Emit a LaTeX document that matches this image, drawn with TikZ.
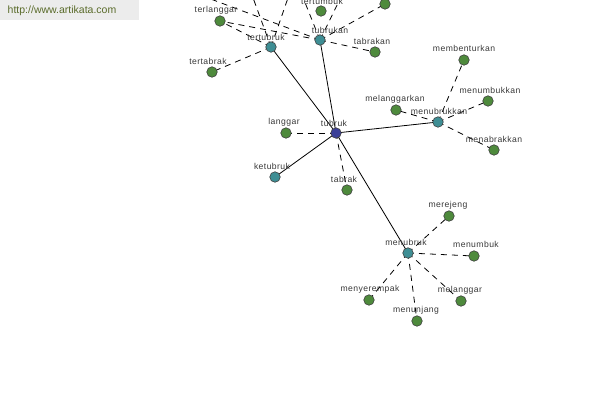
\documentclass[tikz,border=0pt]{standalone}
\usepackage{fontspec}
\setmainfont{Liberation Sans}
\newfontfamily\lblfont[LetterSpace=5]{Liberation Sans}
\begin{document}
\begin{tikzpicture}[x=1pt,y=-1pt,
  gnode/.style={circle,draw=black!75,line width=0.6pt,fill=greenc,inner sep=0pt,minimum size=10.5pt},
  tnode/.style={circle,draw=black!75,line width=0.6pt,fill=tealc,inner sep=0pt,minimum size=10.5pt},
  bnode/.style={circle,draw=black!75,line width=0.6pt,fill=bluec,inner sep=0pt,minimum size=10.5pt},
  lbl/.style={font=\lblfont\fontsize{8.6}{9}\selectfont,text=black!78,inner sep=0pt},
  solidedge/.style={draw=black,line width=0.8pt},
  dashedge/.style={draw=black,line width=0.8pt,dash pattern=on 6pt off 5pt}]
\definecolor{greenc}{HTML}{4E8A3C}
\definecolor{tealc}{HTML}{3E8E94}
\definecolor{bluec}{HTML}{3B3F98}
\definecolor{wmbg}{HTML}{ECECEC}
\definecolor{wmtext}{HTML}{5A6B2A}
\useasboundingbox (0,0) rectangle (600,400);
\clip (0,0) rectangle (600,400);
% off-canvas ends
\coordinate (o1) at (200,-5);
\coordinate (o2) at (252,-5);
\coordinate (o3) at (289,-5);
\coordinate (o4) at (302,-5);
\coordinate (o5) at (342,-5);
% node positions
\coordinate (tubruk) at (336,133);
\coordinate (tertubruk) at (271,47);
\coordinate (tubrukan) at (320,40);
\coordinate (menubrukkan) at (438,122);
\coordinate (menubruk) at (408,253);
\coordinate (ketubruk) at (275,177);
\coordinate (langgar) at (286,133);
\coordinate (tabrak) at (347,190);
\coordinate (tertumbuk) at (321,11);
\coordinate (terlanggar) at (220,21);
\coordinate (tertabrak) at (212,72);
\coordinate (tabrakan) at (375,52);
\coordinate (topright) at (385,4);
\coordinate (membenturkan) at (464,60);
\coordinate (menumbukkan) at (488,101);
\coordinate (melanggarkan) at (396,110);
\coordinate (menabrakkan) at (494,150);
\coordinate (merejeng) at (449,216);
\coordinate (menumbuk) at (474,256);
\coordinate (menyerempak) at (369,300);
\coordinate (melanggar) at (461,301);
\coordinate (menunjang) at (417,321);
% edges
\path[solidedge] (tubruk) -- (tertubruk);
\path[solidedge] (tubruk) -- (tubrukan);
\path[solidedge] (tubruk) -- (menubrukkan);
\path[solidedge] (tubruk) -- (menubruk);
\path[solidedge] (tubruk) -- (ketubruk);
\path[dashedge] (tubruk) -- (langgar);
\path[dashedge] (tubruk) -- (tabrak);
\path[dashedge] (tertubruk) -- (terlanggar);
\path[dashedge] (tertubruk) -- (tertabrak);
\path[dashedge] (tertubruk) -- (o2);
\path[dashedge] (tertubruk) -- (o3);
\path[dashedge] (tubrukan) -- (o1);
\path[dashedge] (tubrukan) -- (terlanggar);
\path[dashedge] (tubrukan) -- (o4);
\path[dashedge] (tubrukan) -- (o5);
\path[dashedge] (tubrukan) -- (topright);
\path[dashedge] (tubrukan) -- (tabrakan);
\path[dashedge] (menubrukkan) -- (membenturkan);
\path[dashedge] (menubrukkan) -- (menumbukkan);
\path[dashedge] (menubrukkan) -- (melanggarkan);
\path[dashedge] (menubrukkan) -- (menabrakkan);
\path[dashedge] (menubruk) -- (merejeng);
\path[dashedge] (menubruk) -- (menumbuk);
\path[dashedge] (menubruk) -- (menyerempak);
\path[dashedge] (menubruk) -- (melanggar);
\path[dashedge] (menubruk) -- (menunjang);
% nodes on top
\foreach \n/\s in {tubruk/bnode,tertubruk/tnode,tubrukan/tnode,menubrukkan/tnode,menubruk/tnode,ketubruk/tnode,
  langgar/gnode,tabrak/gnode,tertumbuk/gnode,terlanggar/gnode,tertabrak/gnode,tabrakan/gnode,topright/gnode,
  membenturkan/gnode,menumbukkan/gnode,melanggarkan/gnode,menabrakkan/gnode,merejeng/gnode,menumbuk/gnode,
  menyerempak/gnode,melanggar/gnode,menunjang/gnode}
  {\node[\s] (n-\n) at (\n) {};}
% labels
\node[lbl] (l1) at (334,123) {tubruk};
\node[lbl] (l2) at (266,37) {tertubruk};
\node[lbl] (l3) at (330,30) {tubrukan};
\node[lbl] (l4) at (322,1) {tertumbuk};
\node[lbl] (l5) at (216,10) {terlanggar};
\node[lbl] (l6) at (208,61) {tertabrak};
\node[lbl] (l7) at (372,41) {tabrakan};
\node[lbl] (l8) at (439,111) {menubrukkan};
\node[lbl] (l9) at (464,48) {membenturkan};
\node[lbl] (l10) at (490,90) {menumbukkan};
\node[lbl] (l11) at (395,99) {melanggarkan};
\node[lbl] (l12) at (494,139) {menabrakkan};
\node[lbl] (l13) at (284,122) {langgar};
\node[lbl] (l14) at (272,166) {ketubruk};
\node[lbl] (l15) at (344,179) {tabrak};
\node[lbl] (l16) at (406,242) {menubruk};
\node[lbl] (l17) at (448,205) {merejeng};
\node[lbl] (l18) at (476,244) {menumbuk};
\node[lbl] (l19) at (370,289) {menyerempak};
\node[lbl] (l20) at (460,290) {melanggar};
\node[lbl] (l21) at (416,310) {menunjang};
% watermark
\node[fill=wmbg,minimum width=139pt,minimum height=20pt,inner sep=0pt,anchor=north west] (wm) at (0,0) {};
\node[text=wmtext,font=\fontsize{10.5}{12}\selectfont,inner sep=0pt] (wmt) at (62,11) {http://www.artikata.com};
\end{tikzpicture}
\end{document}
